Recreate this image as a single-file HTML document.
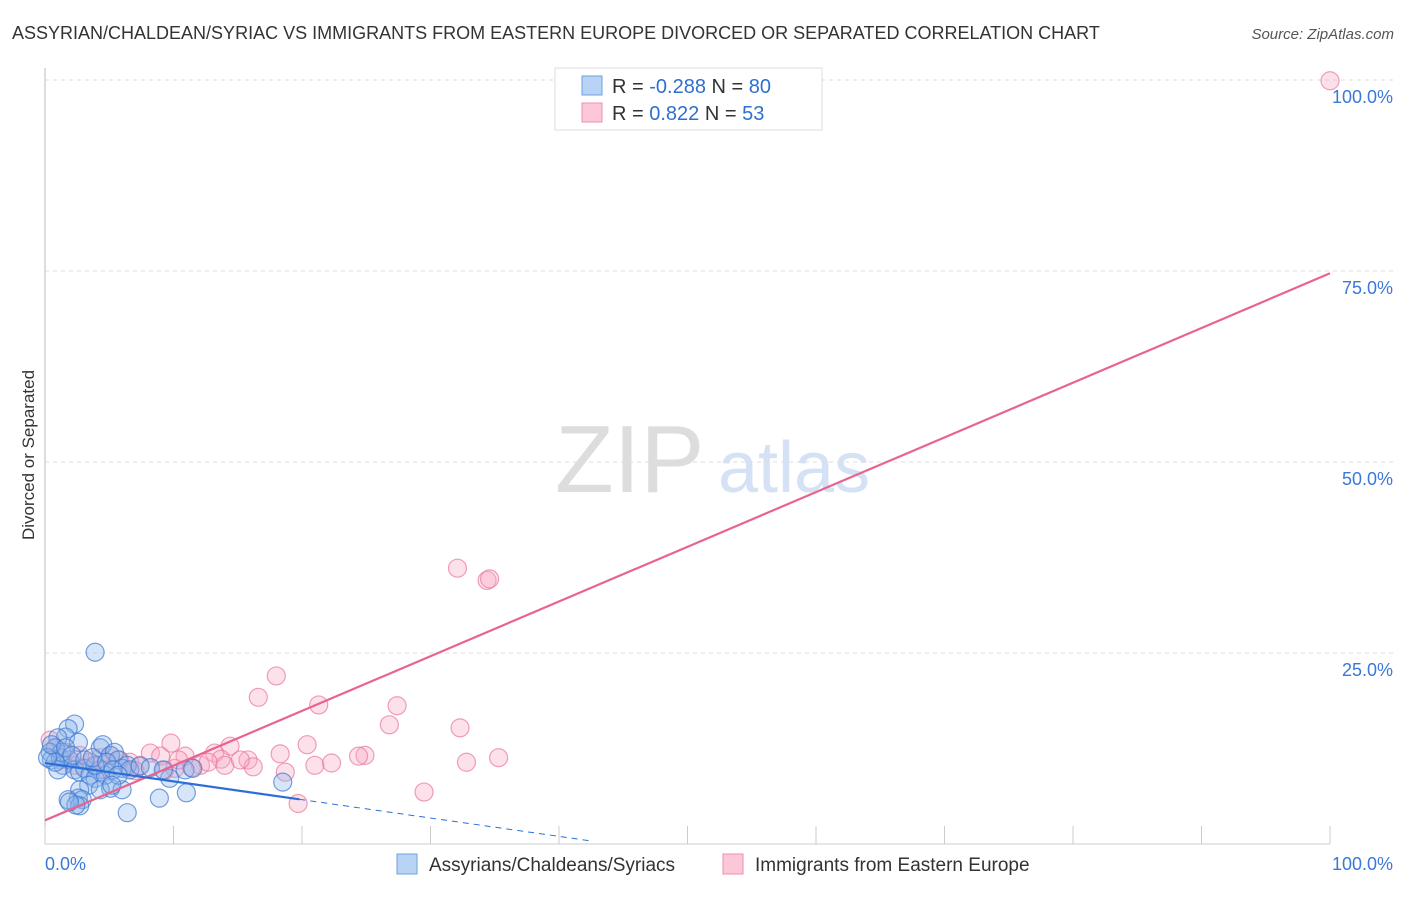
<!DOCTYPE html>
<html><head><meta charset="utf-8"><style>
body{margin:0;background:#fff;font-family:"Liberation Sans",sans-serif;}
svg text{font-family:"Liberation Sans",sans-serif;}
</style></head><body>
<svg id="c" width="1406" height="892">
<text x="12" y="39" font-size="18" fill="#333">ASSYRIAN/CHALDEAN/SYRIAC VS IMMIGRANTS FROM EASTERN EUROPE DIVORCED OR SEPARATED CORRELATION CHART</text>
<text x="1394" y="39" font-size="15" fill="#555" font-style="italic" text-anchor="end">Source: ZipAtlas.com</text>
<text x="34" y="455" font-size="17" fill="#333" text-anchor="middle" transform="rotate(-90 34 455)">Divorced or Separated</text>
<text x="555" y="492" font-size="96" fill="#ddd" font-family="Liberation Serif">ZIP</text>
<text x="718" y="492" font-size="72" fill="#d5e2f5">atlas</text>
<g id="grid"></g><g id="pts"></g><g id="lines"></g>
<g>
<rect x="555" y="68" width="267" height="62" fill="#fff" stroke="#ddd"/>
<rect x="582" y="76" width="20" height="19" fill="#b8d3f5" stroke="#6fa0e0"/>
<rect x="582" y="103" width="20" height="19" fill="#fcc8d8" stroke="#eb90ab"/>
<text x="612" y="93" font-size="20" fill="#333">R = <tspan fill="#2f6fd0">-0.288</tspan>   N = <tspan fill="#2f6fd0">80</tspan></text>
<text x="612" y="120" font-size="20" fill="#333">R =   <tspan fill="#2f6fd0">0.822</tspan>   N = <tspan fill="#2f6fd0">53</tspan></text>
</g>
<g>
<rect x="397" y="854" width="20" height="20" fill="#b8d3f5" stroke="#6fa0e0"/>
<text x="429" y="871" font-size="19" fill="#333">Assyrians/Chaldeans/Syriacs</text>
<rect x="723" y="854" width="20" height="20" fill="#fcc8d8" stroke="#eb90ab"/>
<text x="755" y="871" font-size="19" fill="#333">Immigrants from Eastern Europe</text>
</g>
<text x="45" y="870" font-size="18" fill="#3b78d8">0.0%</text>
<text x="1393" y="870" font-size="18" fill="#3b78d8" text-anchor="end">100.0%</text>
</svg>
<script>
const blueX=[3.9,2.3,1.8,1.6,2.6,1.0,0.8,0.4,0.5,1.2,1.4,1.9,2.3,2.7,3.1,3.5,4.3,4.5,5.1,5.4,5.7,6.0,6.4,6.6,4.3,3.9,3.4,2.7,2.6,1.8,2.9,2.7,6.4,8.9,11.0,9.7,10.9,11.5,18.5,5.1,6.0,4.7,3.9,1.0,1.3,0.8,0.2,0.5,1.6,2.1,3.1,3.7,4.8,5.3,5.7,4.3,5.2,2.4,1.9,7.4,8.2,9.2];
const blueY=[25.1,15.7,15.1,14.0,13.3,13.9,12.6,12.0,11.0,11.3,10.3,11.0,9.7,9.4,9.9,9.0,12.6,13.0,11.6,12.0,11.0,9.9,10.3,9.7,9.7,8.6,7.7,7.1,6.0,5.8,5.8,5.0,4.1,6.0,6.7,8.6,9.7,9.9,8.1,7.3,7.1,9.0,10.3,9.7,12.0,10.7,11.3,13.0,12.6,11.6,11.0,11.3,10.7,9.7,9.0,7.1,7.7,5.1,5.5,10.2,10.0,9.7];
const pinkX=[100,32.1,34.4,34.6,18.0,16.6,21.3,27.4,26.8,32.3,9.8,20.4,14.4,13.2,18.3,10.9,8.2,9.0,24.9,24.4,35.3,15.8,13.7,32.8,21.0,22.3,12.1,11.4,16.2,18.7,12.7,29.5,19.7,9.3,6.6,5.8,5.1,4.3,3.5,2.3,1.2,0.4,0.8,1.6,2.7,7.4,4.7,10.1,14.0,15.2,7.0,10.4,3.9];
const pinkY=[99.9,36.1,34.5,34.7,22.0,19.2,18.2,18.1,15.6,15.2,13.2,13.0,12.8,11.9,11.8,11.5,11.9,11.5,11.6,11.5,11.3,11.0,11.1,10.7,10.3,10.6,10.3,10.0,10.1,9.4,10.7,6.8,5.3,9.6,10.7,11.0,11.6,11.3,10.7,10.3,11.0,13.6,12.6,12.0,11.6,10.3,9.7,9.9,10.3,11.0,9.6,11.0,10.1];
const blueFit=[10.6,-0.24], pinkFit=[3.1,0.716];
const yTicks=[25,50,75,100];
const xTicks=[0,10,20,30,40,50,60,70,80,90,100];
const X=v=>45+v*12.85, Y=v=>844-v*7.64;
const NS="http://www.w3.org/2000/svg";
function mk(tag,attrs,parent){const e=document.createElementNS(NS,tag);for(const k in attrs)e.setAttribute(k,attrs[k]);document.getElementById(parent).appendChild(e);return e;}
let ax=mk('line',{x1:45,y1:68,x2:45,y2:844,stroke:'#bbb'},'grid');


let bx=mk('line',{x1:45,y1:844,x2:1330,y2:844,stroke:'#ccc'},'grid');


yTicks.forEach(t=>{
 let g=mk('line',{x1:45,y1:Y(t),x2:1395,y2:Y(t),stroke:'#ddd','stroke-dasharray':'4,4'},'grid');
 
 
 let tx=mk('text',{x:1393,y:Y(t)+23,'font-size':18,fill:'#3b78d8','text-anchor':'end'},'grid');
 tx.textContent=t.toFixed(1)+'%';
 
 
});
xTicks.forEach(t=>{
 let l=mk('line',{x1:X(t),y1:826,x2:X(t),y2:844,stroke:'#ccc'},'grid');
 
 
});
pinkX.forEach((v,i)=>{
 let c=mk('circle',{cx:X(v),cy:Y(pinkY[i]),r:9,fill:'rgba(248,170,195,0.35)',stroke:'rgba(232,120,155,0.7)','stroke-width':1.2},'pts');
 
 
});
blueX.forEach((v,i)=>{
 let c=mk('circle',{cx:X(v),cy:Y(blueY[i]),r:9,fill:'rgba(140,180,235,0.35)',stroke:'rgba(60,120,210,0.7)','stroke-width':1.2},'pts');
 
 
});
let pl=mk('line',{x1:X(0),y1:Y(pinkFit[0]),x2:X(100),y2:Y(pinkFit[0]+pinkFit[1]*100),stroke:'#e8648f','stroke-width':2.2},'lines');


let bl=mk('line',{x1:X(0),y1:Y(blueFit[0]),x2:X(19.8),y2:Y(blueFit[0]+blueFit[1]*19.8),stroke:'#2b6fd6','stroke-width':2.2},'lines');


let bd=mk('line',{x1:X(19.8),y1:Y(blueFit[0]+blueFit[1]*19.8),x2:X(42.5),y2:Y(blueFit[0]+blueFit[1]*42.5),stroke:'#2b6fd6','stroke-width':1,'stroke-dasharray':'6,5'},'lines');


</script>
</body></html>
